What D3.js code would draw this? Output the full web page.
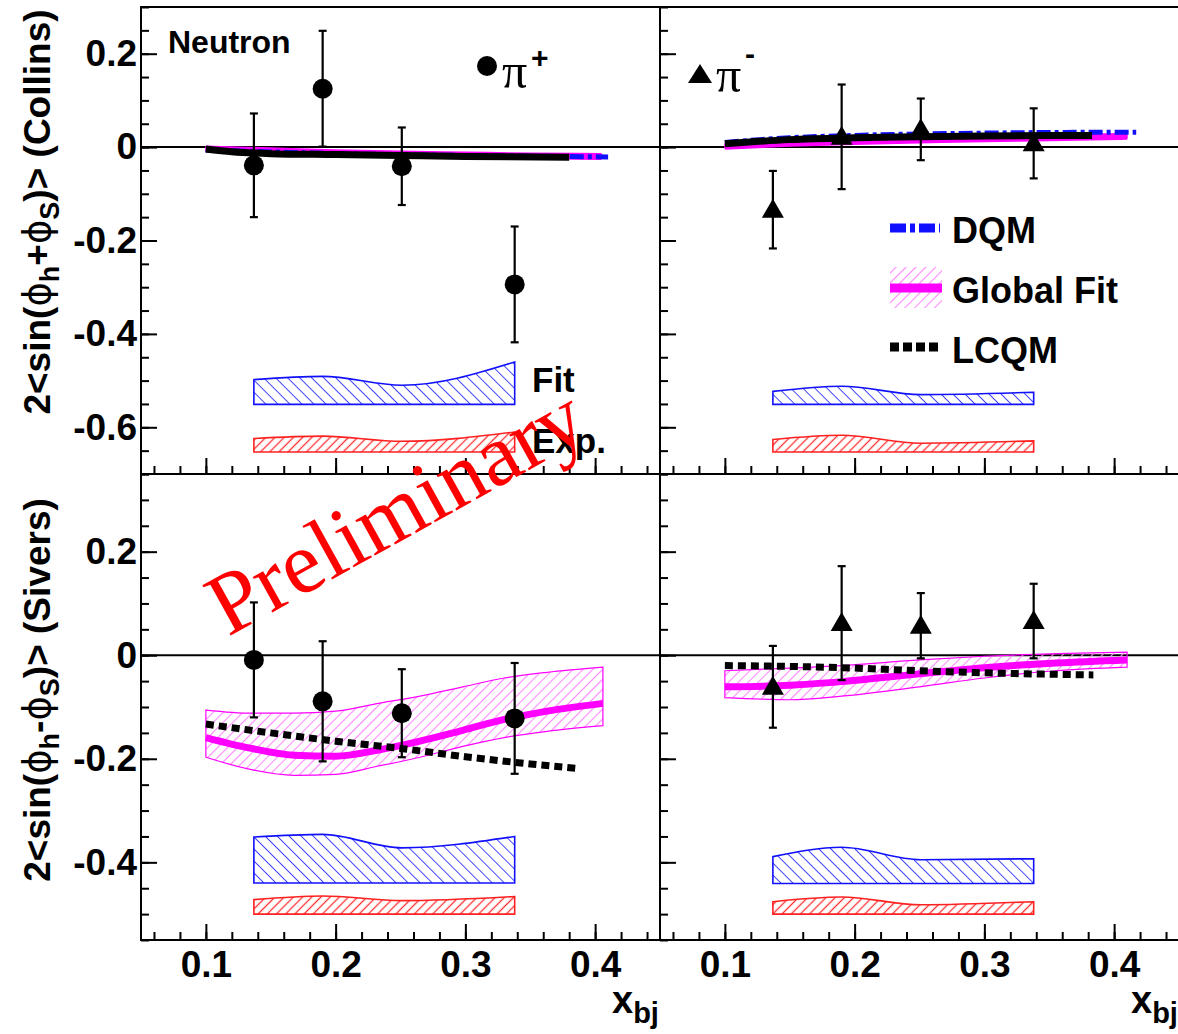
<!DOCTYPE html>
<html><head><meta charset="utf-8">
<script src="https://cdn.jsdelivr.net/npm/d3@7"></script>
<style>
body{margin:0;background:#fff;}
svg{display:block;}
text{font-family:"Liberation Sans",Arial,Helvetica,sans-serif;font-weight:bold;fill:#000;}
</style>
</head><body>
<svg id="c" width="1178" height="1034"></svg>
<script>
// ---------------- DATA ----------------
const xBins = [0.137, 0.190, 0.251, 0.338];

// Collins, pi+
const collinsPipVal = [-0.039, 0.125, -0.041, -0.294];
const collinsPipErr = [0.111, 0.124, 0.083, 0.124];
// Collins, pi-
const collinsPimVal = [-0.134, 0.022, 0.038, 0.008];
const collinsPimErr = [0.083, 0.112, 0.066, 0.075];
// Sivers, pi+
const siversPipVal = [-0.009, -0.089, -0.112, -0.122];
const siversPipErr = [0.111, 0.116, 0.085, 0.107];
// Sivers, pi-
const siversPimVal = [-0.061, 0.062, 0.057, 0.066];
const siversPimErr = [0.079, 0.110, 0.063, 0.072];

// systematic bands (top edge values, base value)
const collinsPipFitSys = [-0.498, -0.491, -0.510, -0.460]; const collinsPipFitBase = -0.551;
const collinsPipExpSys = [-0.624, -0.619, -0.630, -0.610]; const collinsPipExpBase = -0.653;
const collinsPimFitSys = [-0.523, -0.512, -0.530, -0.525]; const collinsPimFitBase = -0.551;
const collinsPimExpSys = [-0.626, -0.617, -0.634, -0.629]; const collinsPimExpBase = -0.653;
const siversPipFitSys  = [-0.351, -0.346, -0.372, -0.350]; const siversPipFitBase = -0.440;
const siversPipExpSys  = [-0.472, -0.465, -0.474, -0.466]; const siversPipExpBase = -0.500;
const siversPimFitSys  = [-0.389, -0.371, -0.395, -0.393]; const siversPimFitBase = -0.441;
const siversPimExpSys  = [-0.476, -0.467, -0.482, -0.476]; const siversPimExpBase = -0.500;

// Global fit (central, lower, upper)
const gfCollinsPipX  = [0.10, 0.15, 0.20, 0.25, 0.30, 0.35, 0.405];
const gfCollinsPip   = [-0.004, -0.008, -0.012, -0.015, -0.017, -0.019, -0.020];
const gfCollinsPipLo = [-0.008, -0.012, -0.016, -0.019, -0.021, -0.023, -0.024];
const gfCollinsPipHi = [0.000, -0.004, -0.008, -0.011, -0.013, -0.015, -0.016];

const gfCollinsPimX  = [0.10, 0.15, 0.20, 0.25, 0.30, 0.35, 0.41];
const gfCollinsPim   = [0.002, 0.008, 0.012, 0.015, 0.018, 0.020, 0.023];
const gfCollinsPimLo = [-0.002, 0.004, 0.008, 0.011, 0.014, 0.016, 0.019];
const gfCollinsPimHi = [0.006, 0.012, 0.016, 0.019, 0.022, 0.024, 0.027];

const gfSiversPipX  = [0.10, 0.135, 0.168, 0.20, 0.233, 0.265, 0.298, 0.33, 0.363, 0.406];
const gfSiversPip   = [-0.159, -0.180, -0.193, -0.195, -0.183, -0.166, -0.145, -0.124, -0.108, -0.093];
const gfSiversPipLo = [-0.197, -0.221, -0.232, -0.230, -0.214, -0.197, -0.176, -0.159, -0.147, -0.136];
const gfSiversPipHi = [-0.106, -0.112, -0.112, -0.108, -0.093, -0.079, -0.061, -0.044, -0.033, -0.023];

const gfSiversPimX  = [0.10, 0.15, 0.19, 0.25, 0.30, 0.355, 0.41];
const gfSiversPim   = [-0.061, -0.058, -0.051, -0.036, -0.024, -0.015, -0.009];
const gfSiversPimLo = [-0.082, -0.086, -0.079, -0.061, -0.044, -0.030, -0.023];
const gfSiversPimHi = [-0.030, -0.025, -0.020, -0.009, -0.002, 0.003, 0.006];

// LCQM
const lcqmCollinsPipX = [0.10, 0.12, 0.15, 0.20, 0.25, 0.30, 0.38];
const lcqmCollinsPip  = [-0.004, -0.010, -0.014, -0.016, -0.018, -0.020, -0.022];
const lcqmCollinsPimX = [0.10, 0.15, 0.20, 0.25, 0.30, 0.383];
const lcqmCollinsPim  = [0.007, 0.016, 0.020, 0.022, 0.024, 0.025];
const lcqmSiversPipX  = [0.10, 0.15, 0.20, 0.25, 0.30, 0.35, 0.388];
const lcqmSiversPip   = [-0.133, -0.150, -0.166, -0.180, -0.196, -0.210, -0.219];
const lcqmSiversPimX  = [0.10, 0.19, 0.25, 0.30, 0.384];
const lcqmSiversPim   = [-0.020, -0.024, -0.030, -0.034, -0.038];

// DQM (Collins only)
const dqmCollinsPipX = [0.10, 0.20, 0.30, 0.41];
const dqmCollinsPip  = [-0.006, -0.014, -0.018, -0.021];
const dqmCollinsPimX = [0.10, 0.15, 0.20, 0.30, 0.417];
const dqmCollinsPim  = [0.010, 0.020, 0.025, 0.030, 0.032];

// axis ticks
const xMajor = [0.1, 0.2, 0.3, 0.4];
const xMinor = d3.range(3, 23).map(i => +(i * 0.02).toFixed(2));
const yMajorTop = [-0.6, -0.4, -0.2, 0, 0.2];
const yMinorTop = d3.range(-14, 7).map(i => +(i * 0.05).toFixed(2));
const yMajorBot = [-0.4, -0.2, 0, 0.2];
const yMinorBot = d3.range(-11, 8).map(i => +(i * 0.05).toFixed(2));

// ---------------- LAYOUT ----------------
const svg = d3.select('#c');
const X0 = 141, XM = 660, X1 = 1179, Y0 = 7, YM = 474, Y1 = 940;
const xDom = [0.05, 0.45];
const xs = [d3.scaleLinear().domain(xDom).range([X0, XM]), d3.scaleLinear().domain(xDom).range([XM, X1])];
const ys = [d3.scaleLinear().domain([-0.7, 0.3]).range([YM, Y0]), d3.scaleLinear().domain([-0.55, 0.35]).range([Y1, YM])];

const BLUE = '#1010ff', RED = '#ff2020', MAG = '#ff00ff', PINK = '#ff88ff';

const defs = svg.append('defs');
function hatch(id, color, angle, sp, w) {
  const p = defs.append('pattern').attr('id', id).attr('patternUnits', 'userSpaceOnUse')
    .attr('width', sp).attr('height', sp).attr('patternTransform', `rotate(${angle})`);
  p.append('line').attr('x1', sp / 2).attr('x2', sp / 2).attr('y1', -1).attr('y2', sp + 1)
    .attr('stroke', color).attr('stroke-width', w);
}
hatch('hBlue', '#4040ff', -45, 8.5, 1.0);
hatch('hRed', '#ff3030', 45, 6.5, 1.3);
hatch('hPink', PINK, 45, 7, 1.1);

const panels = [
  {col: 0, row: 0, val: collinsPipVal, err: collinsPipErr, marker: 'circle',
   fit: collinsPipFitSys, fitB: collinsPipFitBase, exp: collinsPipExpSys, expB: collinsPipExpBase,
   gfX: gfCollinsPipX, gf: gfCollinsPip, gfLo: gfCollinsPipLo, gfHi: gfCollinsPipHi,
   lqX: lcqmCollinsPipX, lq: lcqmCollinsPip, dqX: dqmCollinsPipX, dq: dqmCollinsPip, solidLq: true},
  {col: 1, row: 0, val: collinsPimVal, err: collinsPimErr, marker: 'tri',
   fit: collinsPimFitSys, fitB: collinsPimFitBase, exp: collinsPimExpSys, expB: collinsPimExpBase,
   gfX: gfCollinsPimX, gf: gfCollinsPim, gfLo: gfCollinsPimLo, gfHi: gfCollinsPimHi,
   lqX: lcqmCollinsPimX, lq: lcqmCollinsPim, dqX: dqmCollinsPimX, dq: dqmCollinsPim, solidLq: true},
  {col: 0, row: 1, val: siversPipVal, err: siversPipErr, marker: 'circle',
   fit: siversPipFitSys, fitB: siversPipFitBase, exp: siversPipExpSys, expB: siversPipExpBase,
   gfX: gfSiversPipX, gf: gfSiversPip, gfLo: gfSiversPipLo, gfHi: gfSiversPipHi,
   lqX: lcqmSiversPipX, lq: lcqmSiversPip, dqX: null, dq: null, solidLq: false},
  {col: 1, row: 1, val: siversPimVal, err: siversPimErr, marker: 'tri',
   fit: siversPimFitSys, fitB: siversPimFitBase, exp: siversPimExpSys, expB: siversPimExpBase,
   gfX: gfSiversPimX, gf: gfSiversPim, gfLo: gfSiversPimLo, gfHi: gfSiversPimHi,
   lqX: lcqmSiversPimX, lq: lcqmSiversPim, dqX: null, dq: null, solidLq: false}
];

const fmt = d => (Math.abs(d) < 1e-9 ? '0' : d.toFixed(1));
function styleAxis(g, size) {
  g.select('.domain').remove();
  g.attr('font-family', '"Liberation Sans",Arial,sans-serif').attr('font-size', size).attr('font-weight', 'bold');
  g.selectAll('line').attr('stroke', '#000').attr('stroke-width', 2);
}

panels.forEach(p => {
  const x = xs[p.col], y = ys[p.row];
  const g = svg.append('g');
  const left = x.range()[0], right = x.range()[1];
  const top = y.range()[1], bot = y.range()[0];

  // zero line
  g.append('line').attr('x1', left).attr('x2', right).attr('y1', y(0)).attr('y2', y(0))
    .attr('stroke', '#000').attr('stroke-width', 2);

  // systematic bands
  const sysArea = (arr, base) => d3.area().x((d, i) => x(xBins[i])).y0(y(base)).y1(d => y(d)).curve(d3.curveMonotoneX)(arr);
  g.append('path').attr('d', sysArea(p.fit, p.fitB)).attr('fill', 'url(#hBlue)').attr('stroke', BLUE).attr('stroke-width', 1.6);
  g.append('path').attr('d', sysArea(p.exp, p.expB)).attr('fill', 'url(#hRed)').attr('stroke', RED).attr('stroke-width', 1.6);

  // global fit band + line
  const band = d3.area().x((d, i) => x(p.gfX[i])).y0((d, i) => y(p.gfLo[i])).y1((d, i) => y(p.gfHi[i])).curve(d3.curveMonotoneX);
  g.append('path').attr('d', band(p.gf)).attr('fill', 'url(#hPink)').attr('stroke', MAG).attr('stroke-width', 1.2);
  const ln = xa => d3.line().x((d, i) => x(xa[i])).y(d => y(d)).curve(d3.curveMonotoneX);
  g.append('path').attr('d', ln(p.gfX)(p.gf)).attr('fill', 'none').attr('stroke', MAG).attr('stroke-width', 7);

  // DQM
  if (p.dq) {
    g.append('path').attr('d', ln(p.dqX)(p.dq)).attr('fill', 'none').attr('stroke', BLUE)
      .attr('stroke-width', 5).attr('stroke-dasharray', '14,4,4,4');
  }
  // LCQM
  g.append('path').attr('d', ln(p.lqX)(p.lq)).attr('fill', 'none').attr('stroke', '#000')
    .attr('stroke-width', p.solidLq ? 7 : 7).attr('stroke-dasharray', p.solidLq ? null : '8,5');

  // error bars
  p.val.forEach((v, i) => {
    const cx = x(xBins[i]);
    const ya = y(v - p.err[i]), yb = y(v + p.err[i]);
    g.append('line').attr('x1', cx).attr('x2', cx).attr('y1', ya).attr('y2', yb).attr('stroke', '#000').attr('stroke-width', 2.2);
    [ya, yb].forEach(yy => g.append('line').attr('x1', cx - 4).attr('x2', cx + 4).attr('y1', yy).attr('y2', yy)
      .attr('stroke', '#000').attr('stroke-width', 2.2));
    const cy = y(v);
    if (p.marker === 'circle') {
      g.append('circle').attr('cx', cx).attr('cy', cy).attr('r', 10).attr('fill', '#000');
    } else {
      g.append('path').attr('d', `M${cx},${cy - 11}L${cx + 11},${cy + 8}L${cx - 11},${cy + 8}Z`).attr('fill', '#000');
    }
  });

  // axes: y ticks (inward)
  const yMaj = p.row === 0 ? yMajorTop : yMajorBot, yMin = p.row === 0 ? yMinorTop : yMinorBot;
  svg.append('g').attr('transform', `translate(${left},0)`).call(d3.axisRight(y).tickValues(yMin).tickSize(8).tickFormat('')).call(a => styleAxis(a, 37));
  svg.append('g').attr('transform', `translate(${left},0)`).call(d3.axisRight(y).tickValues(yMaj).tickSize(16).tickFormat('')).call(a => styleAxis(a, 37));
  if (p.col === 0) {
    svg.append('g').attr('transform', `translate(${left},0)`).call(d3.axisLeft(y).tickValues(yMaj).tickSize(0).tickPadding(4).tickFormat(fmt))
      .call(a => styleAxis(a, 37));
  }
  // x ticks (inward at bottom)
  svg.append('g').attr('transform', `translate(0,${bot})`).call(d3.axisTop(x).tickValues(xMinor).tickSize(8).tickFormat('')).call(a => styleAxis(a, 37));
  svg.append('g').attr('transform', `translate(0,${bot})`).call(d3.axisTop(x).tickValues(xMajor).tickSize(16).tickFormat('')).call(a => styleAxis(a, 37));
  if (p.row === 1) {
    svg.append('g').attr('transform', `translate(0,${bot})`).call(d3.axisBottom(x).tickValues(xMajor).tickSize(0).tickPadding(11).tickFormat(d => d.toFixed(1)))
      .call(a => styleAxis(a, 37));
    const t = svg.append('text').attr('x', right - 48).attr('y', 1013).attr('font-size', 38);
    t.append('tspan').text('x');
    t.append('tspan').attr('dy', 10).attr('font-size', 29).text('bj');
  }
  // frame
  svg.append('rect').attr('x', left).attr('y', top).attr('width', right - left).attr('height', bot - top)
    .attr('fill', 'none').attr('stroke', '#000').attr('stroke-width', 2);
});

// y titles
function yTitle(cy, sign, name) {
  const t = svg.append('text').attr('transform', `translate(50,${cy}) rotate(-90)`).attr('text-anchor', 'middle').attr('font-size', 37);
  t.append('tspan').text('2<sin(');
  t.append('tspan').attr('font-family', '"DejaVu Sans"').attr('font-weight', 'normal').text('ϕ');
  t.append('tspan').attr('dy', 9).attr('font-size', 27).text('h');
  t.append('tspan').attr('dy', -9).text(sign);
  t.append('tspan').attr('font-family', '"DejaVu Sans"').attr('font-weight', 'normal').text('ϕ');
  t.append('tspan').attr('dy', 9).attr('font-size', 27).text('S');
  t.append('tspan').attr('dy', -9).text(')> (' + name + ')');
}
yTitle(212, '+', 'Collins');
yTitle(690, '-', 'Sivers');

// in-panel labels
svg.append('text').attr('x', 168).attr('y', 53).attr('font-size', 32).text('Neutron');
svg.append('circle').attr('cx', 487).attr('cy', 66).attr('r', 10).attr('fill', '#000');
svg.append('text').attr('x', 502).attr('y', 88).attr('font-size', 50)
  .style('font-weight', 'normal').style('font-family', '"Liberation Serif",serif').text('π');
svg.append('text').attr('x', 531).attr('y', 68).attr('font-size', 30).text('+');
svg.append('path').attr('d', 'M700,64L712,83L688,83Z').attr('fill', '#000');
svg.append('text').attr('x', 716).attr('y', 92).attr('font-size', 50)
  .style('font-weight', 'normal').style('font-family', '"Liberation Serif",serif').text('π');
svg.append('text').attr('x', 745).attr('y', 64).attr('font-size', 30).text('-');

svg.append('text').attr('x', 532).attr('y', 392).attr('font-size', 35).text('Fit');
svg.append('text').attr('x', 532).attr('y', 453).attr('font-size', 35).text('Exp.');

// legend
const lg = svg.append('g');
lg.append('line').attr('x1', 890).attr('x2', 940).attr('y1', 228).attr('y2', 228).attr('stroke', BLUE).attr('stroke-width', 9).attr('stroke-dasharray', '16,4,5,4');
lg.append('rect').attr('x', 890).attr('y', 267).attr('width', 52).attr('height', 41).attr('fill', 'url(#hPink)');
lg.append('line').attr('x1', 890).attr('x2', 942).attr('y1', 288).attr('y2', 288).attr('stroke', MAG).attr('stroke-width', 9);
lg.append('line').attr('x1', 890).attr('x2', 940).attr('y1', 347).attr('y2', 347).attr('stroke', '#000').attr('stroke-width', 9).attr('stroke-dasharray', '9,4');
lg.append('text').attr('x', 952).attr('y', 243).attr('font-size', 36).text('DQM');
lg.append('text').attr('x', 952).attr('y', 303).attr('font-size', 36).text('Global Fit');
lg.append('text').attr('x', 952).attr('y', 363).attr('font-size', 36).text('LCQM');

// watermark
svg.append('text').attr('transform', 'translate(228,637) rotate(-29)').attr('font-size', 88)
  .style('font-weight', 'normal').style('font-family', '"Liberation Serif","Times New Roman",serif')
  .style('fill', '#ff0000').text('Preliminary');
</script>
</body></html>
